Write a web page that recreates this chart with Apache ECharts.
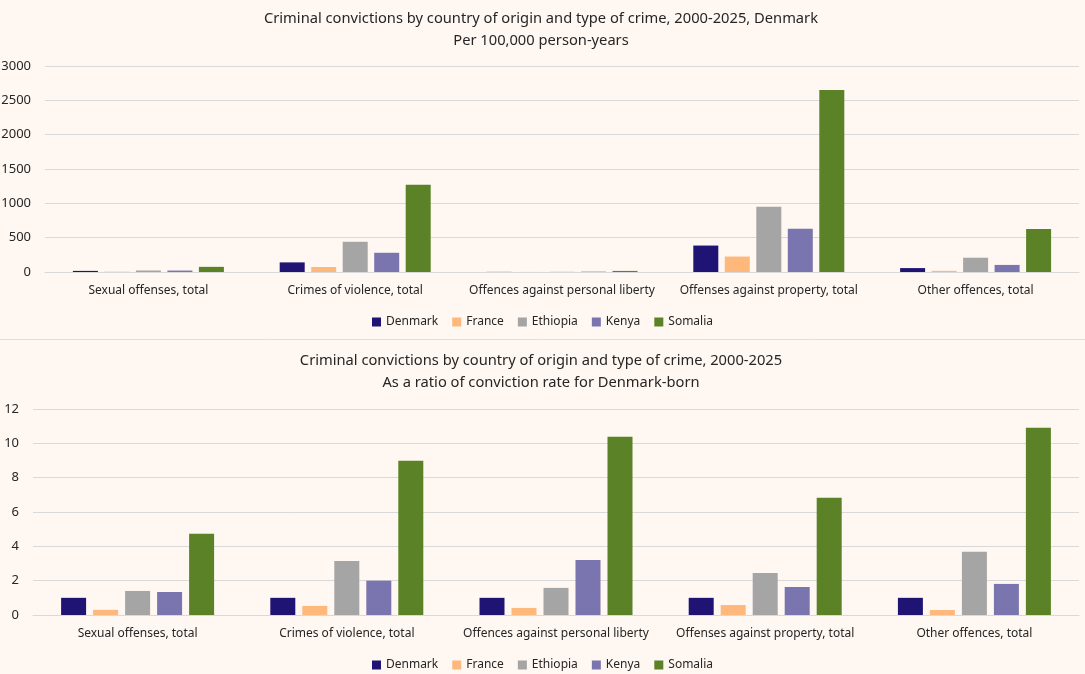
<!DOCTYPE html>
<html><head><meta charset="utf-8">
<script src="https://cdn.jsdelivr.net/npm/echarts@6/dist/echarts.min.js"></script>
<style>html,body{margin:0;padding:0;background:#FEF7F2}#c{width:1085px;height:674px}</style>
</head><body><div id="c"></div>
<script>
const categories = ["Sexual offenses, total","Crimes of violence, total","Offences against personal liberty","Offenses against property, total","Other offences, total"];
const countries = ["Denmark","France","Ethiopia","Kenya","Somalia"];
const colors = ["#1F1474","#FFB87C","#A5A5A5","#7A75AE","#5B8226"];
// Per 100,000 person-years
const rateDenmark  = [16, 140, 1.5, 385, 57];
const rateFrance   = [5, 73, 0.6, 225, 17];
const rateEthiopia = [22, 440, 2.4, 950, 208];
const rateKenya    = [21, 280, 4.8, 630, 103];
const rateSomalia  = [75, 1270, 15.6, 2650, 625];
// Ratio to Denmark-born
const ratioDenmark  = [1, 1, 1, 1, 1];
const ratioFrance   = [0.3, 0.53, 0.41, 0.58, 0.29];
const ratioEthiopia = [1.4, 3.15, 1.58, 2.45, 3.68];
const ratioKenya    = [1.34, 2.0, 3.2, 1.63, 1.81];
const ratioSomalia  = [4.73, 8.98, 10.38, 6.83, 10.91];
const topTicks = [0, 500, 1000, 1500, 2000, 2500, 3000];
const bottomTicks = [0, 2, 4, 6, 8, 10, 12];

const rates = [rateDenmark, rateFrance, rateEthiopia, rateKenya, rateSomalia];
const ratios = [ratioDenmark, ratioFrance, ratioEthiopia, ratioKenya, ratioSomalia];
const FONT = "Noto Sans";
const txt = "#262626";
const gridCol = "#D9D9D9";

function xAxis(gi){
  return {type:'category', gridIndex:gi, data:categories,
    axisLine:{lineStyle:{color:gridCol}}, axisTick:{show:false},
    axisLabel:{color:txt, fontFamily:FONT, fontSize:12, margin:13, interval:0}};
}
function yAxis(gi, ticks){
  return {type:'value', gridIndex:gi, min:ticks[0], max:ticks[ticks.length-1], interval:ticks[1]-ticks[0],
    axisLine:{show:false}, axisTick:{show:false},
    splitLine:{lineStyle:{color:gridCol}},
    axisLabel:{color:txt, fontFamily:FONT, fontSize:13, margin:14, formatter:v=>String(v)}};
}
const series = [];
countries.forEach((c,i)=>{
  series.push({name:c, type:'bar', xAxisIndex:0, yAxisIndex:0, data:rates[i], barWidth:25, barGap:'26%', itemStyle:{color:colors[i]}});
});
countries.forEach((c,i)=>{
  series.push({name:c, type:'bar', xAxisIndex:1, yAxisIndex:1, data:ratios[i], barWidth:25, barGap:'28%', itemStyle:{color:colors[i]}});
});
const legendBase = {data:countries, itemWidth:9, itemHeight:9, itemGap:14, icon:'rect',
  textStyle:{color:txt, fontFamily:FONT, fontSize:12}, left:'center'};
const chart = echarts.init(document.getElementById('c'));
chart.setOption({
  backgroundColor:'#FEF7F2',
  animation:false,
  title:[
    {text:'Criminal convictions by country of origin and type of crime, 2000-2025, Denmark\nPer 100,000 person-years',
     left:536, textAlign:'center', top:3, textStyle:{color:txt, fontFamily:FONT, fontSize:14.7, fontWeight:'normal', lineHeight:22}},
    {text:'Criminal convictions by country of origin and type of crime, 2000-2025\nAs a ratio of conviction rate for Denmark-born',
     left:536, textAlign:'center', top:345, textStyle:{color:txt, fontFamily:FONT, fontSize:14.7, fontWeight:'normal', lineHeight:22}}
  ],
  legend:[
    Object.assign({}, legendBase, {top:311}),
    Object.assign({}, legendBase, {top:654})
  ],
  grid:[
    {left:45, right:6, top:66, height:206, outerBoundsMode:'none', containLabel:false},
    {left:33, right:6, top:409, height:206, outerBoundsMode:'none', containLabel:false}
  ],
  xAxis:[xAxis(0), xAxis(1)],
  yAxis:[yAxis(0, topTicks), yAxis(1, bottomTicks)],
  series:series,
  graphic:[{type:'line', shape:{x1:0,y1:339.5,x2:1085,y2:339.5}, style:{stroke:'#E3DCD7', lineWidth:1}}]
});
</script></body></html>
